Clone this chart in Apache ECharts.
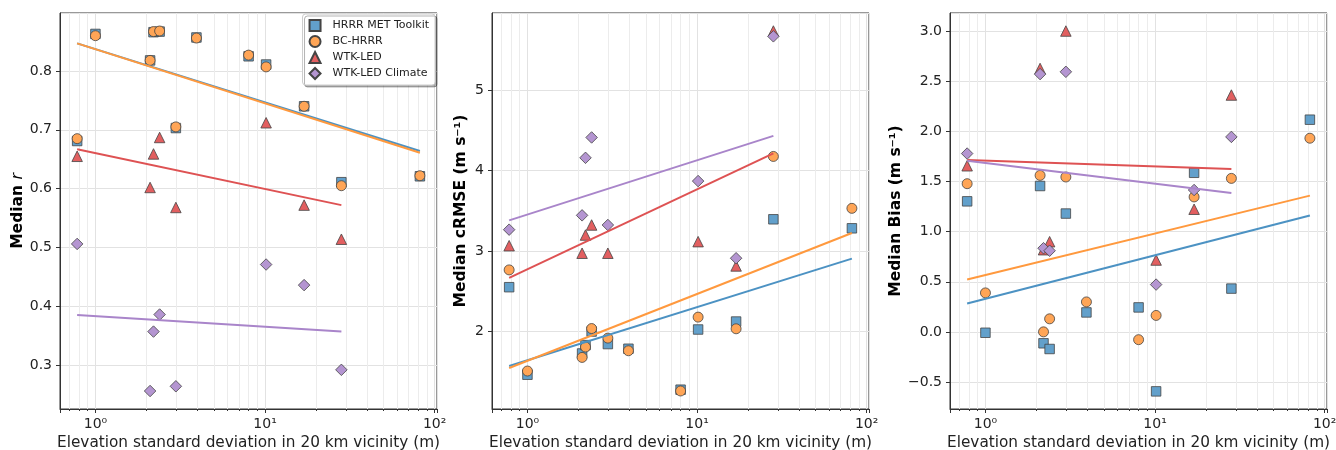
<!DOCTYPE html>
<html>
<head>
<meta charset="utf-8">
<script src="https://cdn.jsdelivr.net/npm/echarts@6/dist/echarts.min.js"></script>
<style>
  html, body { margin: 0; padding: 0; background: #fff; }
  #chart { width: 1336px; height: 450px; }
</style>
</head>
<body>
<div id="chart"></div>
<script>
// station elevation std (m)
const xAll = [0.78, 1.0, 2.1, 2.2, 2.39, 2.98, 3.94, 8.0, 10.15, 17.0, 28.2, 81.9];
const xWtk = [0.78, 2.1, 2.2, 2.39, 2.98, 10.15, 17.0, 28.2];
const fitXAll = [0.78, 81.9];
const fitXWtk = [0.78, 28.2];

const seriesNames = ['HRRR MET Toolkit', 'BC-HRRR', 'WTK-LED', 'WTK-LED Climate'];

// median r
const rHrrr = [0.681, 0.863, 0.818, 0.866, 0.867, 0.703, 0.857, 0.825, 0.811, 0.740, 0.611, 0.621];
const rBc = [0.685, 0.860, 0.818, 0.867, 0.868, 0.705, 0.856, 0.827, 0.807, 0.740, 0.605, 0.622];
const rWtk = [0.655, 0.602, 0.659, 0.687, 0.568, 0.712, 0.572, 0.514];
const rClim = [0.506, 0.256, 0.357, 0.386, 0.264, 0.471, 0.436, 0.292];
const rFitHrrr = [0.847, 0.664];
const rFitBc = [0.847, 0.661];
const rFitWtk = [0.667, 0.572];
const rFitClim = [0.385, 0.357];

// median cRMSE
const cHrrr = [2.552, 1.464, 1.728, 1.832, 2.001, 1.845, 1.787, 1.278, 2.026, 2.125, 3.396, 3.284];
const cBc = [2.767, 1.510, 1.679, 1.808, 2.038, 1.919, 1.762, 1.262, 2.180, 2.035, 4.177, 3.532];
const cWtk = [3.068, 2.974, 3.200, 3.325, 2.974, 3.118, 2.816, 5.736];
const cClim = [3.267, 3.445, 4.160, 4.413, 3.325, 3.871, 2.912, 5.670];
const cFitHrrr = [1.572, 2.907];
const cFitBc = [1.547, 3.226];
const cFitWtk = [2.667, 4.215];
const cFitClim = [3.383, 4.433];

// median bias
const bHrrr = [1.303, -0.009, 1.456, -0.114, -0.171, 1.181, 0.194, 0.244, -0.594, 1.588, 0.432, 2.118];
const bBc = [1.479, 0.389, 1.562, 0.000, 0.130, 1.546, 0.299, -0.078, 0.164, 1.347, 1.532, 1.933];
const bWtk = [1.658, 2.629, 0.820, 0.900, 3.003, 0.717, 1.224, 2.364];
const bClim = [1.780, 2.573, 0.835, 0.810, 2.596, 0.472, 1.416, 1.946];
const bFitHrrr = [0.283, 1.161];
const bFitBc = [0.522, 1.360];
const bFitWtk = [1.715, 1.625];
const bFitClim = [1.708, 1.387];

const xTickValues = [1, 10, 100];
const xTickLabels = ['10⁰', '10¹', '10²'];

const FONT = 'DejaVu Sans';
const fillColors = ['#62a0cb', '#ffa556', '#e25f60', '#b495d1'];
const lineColors = ['#4c92c3', '#ff993e', '#de5253', '#a985ca'];
const symbols = ['rect', 'circle', 'triangle', 'diamond'];
const symbolSizes = [9.5, 10, 10.5, 11.5];

const panels = [
  { left: 60, ys: [rHrrr, rBc, rWtk, rClim], fits: [rFitHrrr, rFitBc, rFitWtk, rFitClim],
    ymin: 0.2254, ymax: 0.8986, fmt: v => v.toFixed(1), nameGap: 34,
    name: '{a|Median }{b|r}' },
  { left: 492, ys: [cHrrr, cBc, cWtk, cClim], fits: [cFitHrrr, cFitBc, cFitWtk, cFitClim],
    ymin: 1.038, ymax: 5.96, fmt: v => v.toFixed(0), nameGap: 23,
    name: '{a|Median cRMSE (m s⁻¹)}' },
  { left: 950, ys: [bHrrr, bBc, bWtk, bClim], fits: [bFitHrrr, bFitBc, bFitWtk, bFitClim],
    ymin: -0.77, ymax: 3.183, fmt: v => v.toFixed(1).replace('-', '−'), nameGap: 45,
    name: '{a|Median Bias (m s⁻¹)}' }
];

const grids = [], xAxes = [], yAxes = [], series = [];

panels.forEach((p, pi) => {
  grids.push({ left: p.left, top: 13, width: 377, height: 396, show: true,
    outerBoundsMode: 'none', containLabel: false,
    borderColor: '#333', borderWidth: 1, backgroundColor: 'transparent' });

  xAxes.push({
    type: 'log', logBase: 10, gridIndex: pi, min: 0.618, max: 103.3,
    name: 'Elevation standard deviation in 20 km vicinity (m)',
    nameLocation: 'middle', nameGap: 25,
    nameTextStyle: { fontFamily: FONT, fontSize: 15.3, color: '#222' },
    axisLine: { show: true, onZero: false, lineStyle: { color: '#333' } },
    axisTick: { show: true, length: 4, lineStyle: { color: '#333' } },
    minorTick: { show: true, splitNumber: 9, length: 2, lineStyle: { color: '#333' } },
    axisLabel: { fontFamily: FONT, fontSize: 14, color: '#222', margin: 8,
      formatter: v => {
        const k = xTickValues.findIndex(t => Math.abs(t - v) < 1e-6 * t);
        return k >= 0 ? xTickLabels[k] : '';
      } },
    splitLine: { show: true, lineStyle: { color: '#e2e2e2' } },
    minorSplitLine: { show: true, lineStyle: { color: '#ececec' } }
  });

  yAxes.push({
    type: 'value', gridIndex: pi, min: p.ymin, max: p.ymax, splitNumber: 6,
    name: p.name, nameLocation: 'middle', nameRotate: 90, nameGap: p.nameGap,
    nameTextStyle: { rich: {
      a: { fontFamily: FONT, fontSize: 15.5, fontWeight: 'bold', color: '#000' },
      b: { fontFamily: FONT, fontSize: 15.5, fontStyle: 'italic', color: '#000' }
    } },
    axisLine: { show: true, onZero: false, lineStyle: { color: '#333' } },
    axisTick: { show: true, length: 4, lineStyle: { color: '#333' } },
    axisLabel: { fontFamily: FONT, fontSize: 14, color: '#222', margin: 8,
      showMinLabel: false, showMaxLabel: false, formatter: p.fmt },
    splitLine: { show: true, lineStyle: { color: '#e2e2e2' } }
  });

  p.ys.forEach((ys, si) => {
    const xs = si < 2 ? xAll : xWtk;
    series.push({
      type: 'scatter', name: seriesNames[si], xAxisIndex: pi, yAxisIndex: pi,
      symbol: symbols[si], symbolSize: symbolSizes[si], z: 2 + si * 0.01,
      itemStyle: { color: fillColors[si], borderColor: '#444', borderWidth: 0.8, opacity: 1 },
      data: xs.map((x, i) => [x, ys[i]])
    });
  });
  p.fits.forEach((fy, si) => {
    const fx = si < 2 ? fitXAll : fitXWtk;
    series.push({
      type: 'line', name: 'fit ' + seriesNames[si], xAxisIndex: pi, yAxisIndex: pi,
      showSymbol: false, silent: true, z: 3,
      lineStyle: { color: lineColors[si], width: 2 },
      data: fx.map((x, i) => [x, fy[i]])
    });
  });
});

const chart = echarts.init(document.getElementById('chart'), null, { renderer: 'canvas' });
chart.setOption({
  backgroundColor: '#fff',
  animation: false,
  grid: grids,
  xAxis: xAxes,
  yAxis: yAxes,
  legend: {
    data: seriesNames, orient: 'vertical', right: 901, top: 14,
    itemWidth: 11, itemHeight: 11, itemGap: 3,
    textStyle: { fontFamily: FONT, fontSize: 11, color: '#222', padding: [0, 0, 0, 7] },
    backgroundColor: '#fff', borderColor: '#ccc', borderWidth: 1, borderRadius: 3,
    padding: [5, 6, 5, 6],
    shadowColor: 'rgba(0,0,0,0.3)', shadowOffsetX: 2, shadowOffsetY: 2, shadowBlur: 0
  },
  series: series
});
</script>
</body>
</html>
